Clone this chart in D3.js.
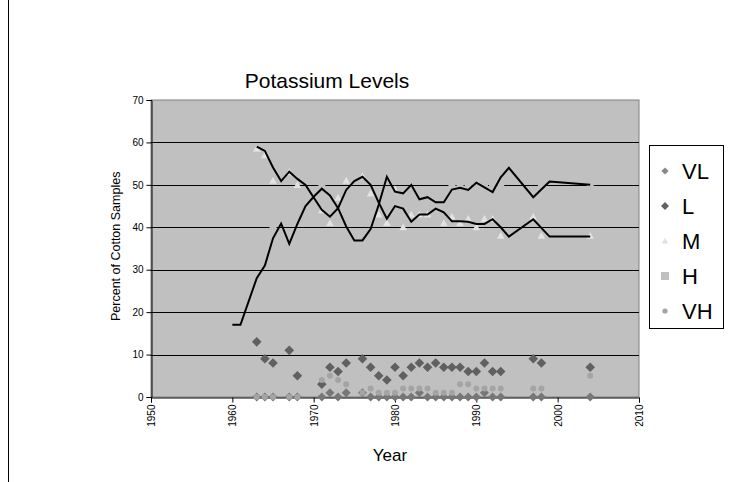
<!DOCTYPE html>
<html>
<head>
<meta charset="utf-8">
<script src="https://cdn.jsdelivr.net/npm/d3@7"></script>
<style>
  body { margin: 0; background: #fff; }
  svg { display: block; font-family: "Liberation Sans", Arial, sans-serif; }
</style>
</head>
<body>
<div id="chart"></div>
<script>
// sample years shared by the five marker series
var years = [1963,1964,1965,1967,1968,1971,1972,1973,1974,1976,1977,1978,1979,1980,1981,
             1982,1983,1984,1985,1986,1987,1988,1989,1990,1991,1992,1993,1997,1998,2004];

var vl = [0,0,0,0,0, 0,1,0,1,1, 0,0,0,0,0, 0,1,0,0,0, 0,0,0,0,1, 0,0,0,0,0];
var l  = [13,9,8,11,5, 3,7,6,8,9, 7,5,4,7,5, 7,8,7,8,7, 7,7,6,6,8, 6,6,9,8,7];
var m  = [58.5,57,51,53,50, 44,41,47,51,52, 48,43,41,49,40, 43,43,43,46,41,
          42.5,41,42,40,42, 42,38,42.5,38,38];
var h  = [28,31,40,36,41, 50,47,44,38.5,37, 41.5,45,52,48,48, 48.5,47,47,46,46,
          50,50,50,50,50, 50,50,47,50,50];
var vh = [0,0,0,0,0, 4,5,4,3,1, 2,1,1,1,2, 2,2,2,1,1, 1,3,3,2,2, 2,2,2,2,5];

// the two black trend lines
var trendYearsA = [1963,1964,1965,1966,1967,1968,1969,1970,1971,1972,1973,1974,1975,1976,1977,1978,
                   1979,1980,1981,1982,1983,1984,1985,1986,1987,1988,1989,1990,1991,1992,1993,1994,
                   1997,1999,2004];
var trendA = [59,58,54.1,50.9,53.1,51.4,50,47,44.1,42.5,44.5,48.8,50.9,51.9,50,45.8,
              42,45,44.4,41.3,43,43,44.4,43.5,41.4,41.4,41.3,40.8,40.8,41.9,40,37.8,
              41.9,37.8,37.8];
var trendYearsB = [1960,1961,1963,1964,1965,1966,1967,1968,1969,1970,1971,1972,1973,1974,1975,1976,
                   1977,1978,1979,1980,1981,1982,1983,1984,1985,1986,1987,1988,1989,1990,1991,1992,
                   1993,1994,1997,1999,2004];
var trendB = [17,17,28,31,37.4,40.9,36.1,40.8,45,47.2,49.1,47.5,44.5,40.2,36.9,36.9,
              39.6,45.3,51.9,48.4,48,50,46.6,47.1,45.9,45.9,48.9,49.3,48.8,50.5,49.4,48.3,
              51.8,54,47.1,50.8,50];

var xTicks = [1950,1960,1970,1980,1990,2000,2010];
var yTicks = [0,10,20,30,40,50,60,70];
var seriesNames = ["VL","L","M","H","VH"];

var w = 730, h_ = 482;
var plot = { left: 151, right: 639, top: 100, bottom: 397 };

var svg = d3.select("#chart").append("svg")
  .attr("width", w).attr("height", h_);

// chart area border (only the left edge falls inside the frame)
svg.append("rect")
  .attr("x", 8.5).attr("y", -10).attr("width", 1000).attr("height", 1000)
  .attr("fill", "#fff").attr("stroke", "#000");

var x = d3.scaleLinear().domain([1950, 2010]).range([plot.left, plot.right]);
var y = d3.scaleLinear().domain([0, 70]).range([plot.bottom, plot.top]);

// plot background
svg.append("rect")
  .attr("x", plot.left).attr("y", plot.top)
  .attr("width", plot.right - plot.left).attr("height", plot.bottom - plot.top)
  .attr("fill", "#c0c0c0").attr("stroke", "#808080");

// gridlines
svg.append("g").selectAll("line")
  .data(yTicks.filter(function(d) { return d > 0 && d < 70; }))
  .join("line")
  .attr("x1", plot.left).attr("x2", plot.right)
  .attr("y1", function(d) { return Math.round(y(d)) + 0.5; })
  .attr("y2", function(d) { return Math.round(y(d)) + 0.5; })
  .attr("stroke", "#000");

// axes
var yAxis = d3.axisLeft(y).tickValues(yTicks).tickSize(5).tickPadding(3);
var gy = svg.append("g").attr("transform", "translate(" + (plot.left + 0.5) + ",0)").call(yAxis);
gy.selectAll("text").attr("font-size", 10).attr("font-family", "Liberation Sans, Arial, sans-serif");

var xAxis = d3.axisBottom(x).tickValues(xTicks).tickFormat(d3.format("d")).tickSize(5);
var gx = svg.append("g").attr("transform", "translate(0," + (plot.bottom + 0.5) + ")").call(xAxis);
gx.selectAll("text")
  .attr("font-size", 10).attr("font-family", "Liberation Sans, Arial, sans-serif")
  .attr("transform", "rotate(-90)")
  .attr("text-anchor", "end")
  .attr("x", -7).attr("y", 0).attr("dy", "0.35em");
svg.selectAll(".domain").attr("stroke", "#000");
svg.selectAll(".tick line").attr("stroke", "#000");

// markers
function diamond(r) { return "M0," + (-r) + "L" + r + ",0L0," + r + "L" + (-r) + ",0Z"; }
function triangle(r) { return "M0," + (-r) + "L" + r + "," + (r * 0.8) + "L" + (-r) + "," + (r * 0.8) + "Z"; }

var rows = years.map(function(yr, i) {
  return { year: yr, vl: vl[i], l: l[i], m: m[i], h: h[i], vh: vh[i] };
});

svg.append("g").selectAll("path").data(rows).join("path")
  .attr("d", diamond(4.5))
  .attr("transform", function(d) { return "translate(" + x(d.year) + "," + y(d.vl) + ")"; })
  .attr("fill", "#777");

svg.append("g").selectAll("path").data(rows).join("path")
  .attr("d", diamond(4.8))
  .attr("transform", function(d) { return "translate(" + x(d.year) + "," + y(d.l) + ")"; })
  .attr("fill", "#606060");

svg.append("g").selectAll("path").data(rows).join("path")
  .attr("d", triangle(3.8))
  .attr("transform", function(d) { return "translate(" + x(d.year) + "," + y(d.m) + ")"; })
  .attr("fill", "#e2e2e2");

svg.append("g").selectAll("rect").data(rows).join("rect")
  .attr("x", function(d) { return x(d.year) - 3.5; })
  .attr("y", function(d) { return y(d.h) - 3.5; })
  .attr("width", 7).attr("height", 7)
  .attr("fill", "#c0c0c0");

svg.append("g").selectAll("circle").data(rows).join("circle")
  .attr("cx", function(d) { return x(d.year); })
  .attr("cy", function(d) { return y(d.vh); })
  .attr("r", 3)
  .attr("fill", "#a4a4a4");

// trend lines
var line = d3.line()
  .x(function(d) { return x(d[0]); })
  .y(function(d) { return y(d[1]); });

svg.append("path")
  .datum(d3.zip(trendYearsA, trendA))
  .attr("d", line)
  .attr("fill", "none").attr("stroke", "#000").attr("stroke-width", 2);

svg.append("path")
  .datum(d3.zip(trendYearsB, trendB))
  .attr("d", line)
  .attr("fill", "none").attr("stroke", "#000").attr("stroke-width", 2);

// titles
svg.append("text")
  .attr("x", 327).attr("y", 88)
  .attr("text-anchor", "middle")
  .attr("font-size", 21)
  .text("Potassium Levels");

svg.append("text")
  .attr("x", 390).attr("y", 461)
  .attr("text-anchor", "middle")
  .attr("font-size", 17)
  .text("Year");

svg.append("clipPath").attr("id", "yclip")
  .append("rect").attr("x", 100).attr("y", 171).attr("width", 40).attr("height", 200);

svg.append("g").attr("clip-path", "url(#yclip)")
  .append("text")
  .attr("transform", "translate(120,321) rotate(-90)")
  .attr("text-anchor", "start")
  .attr("font-size", 12.5)
  .text("Percent of Cotton Samples");

// legend
var legend = svg.append("g");
legend.append("rect")
  .attr("x", 649.5).attr("y", 145.5).attr("width", 74).attr("height", 183)
  .attr("fill", "#fff").attr("stroke", "#000");

var ly = d3.scalePoint().domain(seriesNames).range([171, 311]);

var item = legend.selectAll("g.item").data(seriesNames).join("g")
  .attr("class", "item")
  .attr("transform", function(d) { return "translate(0," + ly(d) + ")"; });

item.append("text")
  .attr("x", 682).attr("y", 0).attr("dy", "0.35em")
  .attr("font-size", 22)
  .text(function(d) { return d; });

item.each(function(d) {
  var g = d3.select(this);
  if (d === "VL") g.append("path").attr("d", diamond(3.6)).attr("transform", "translate(665,0)").attr("fill", "#888");
  if (d === "L") g.append("path").attr("d", diamond(4)).attr("transform", "translate(665,0)").attr("fill", "#606060");
  if (d === "M") g.append("path").attr("d", triangle(3.2)).attr("transform", "translate(665,0)").attr("fill", "#e2e2e2");
  if (d === "H") g.append("rect").attr("x", 661).attr("y", -4).attr("width", 8).attr("height", 8).attr("fill", "#c0c0c0");
  if (d === "VH") g.append("circle").attr("cx", 665).attr("cy", 0).attr("r", 2.6).attr("fill", "#a4a4a4");
});
</script>
</body>
</html>
